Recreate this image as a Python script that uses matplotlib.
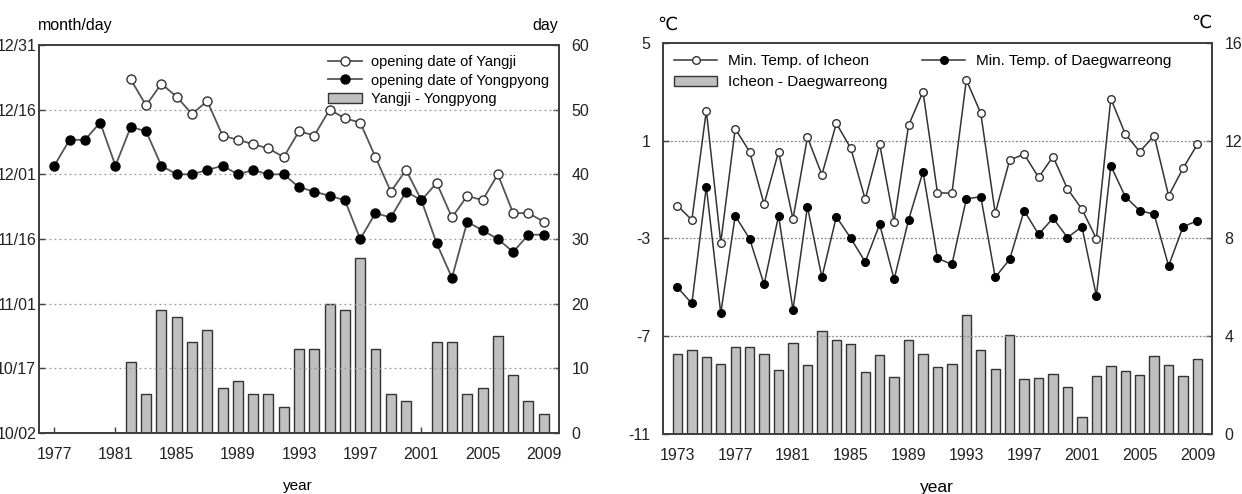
import matplotlib.pyplot as plt
import matplotlib.dates as mdates
from matplotlib.patches import Patch
from matplotlib.lines import Line2D
import pandas as pd

# ---- left panel: ski slope opening dates (month/day) ----
years_a = list(range(1977, 2010))
yongpyong = ['12/03', '12/09', '12/09', '12/13', '12/03', '12/12', '12/11', '12/03', '12/01',
             '12/01', '12/02', '12/03', '12/01', '12/02', '12/01', '12/01', '11/28', '11/27',
             '11/26', '11/25', '11/16', '11/22', '11/21', '11/27', '11/25', '11/15', '11/07',
             '11/20', '11/18', '11/16', '11/13', '11/17', '11/17']
years_yangji = list(range(1982, 2010))
yangji = ['12/23', '12/17', '12/22', '12/19', '12/15', '12/18', '12/10', '12/09', '12/08',
          '12/07', '12/05', '12/11', '12/10', '12/16', '12/14', '12/13', '12/05', '11/27',
          '12/02', '11/25', '11/29', '11/21', '11/26', '11/25', '12/01', '11/22', '11/22',
          '11/20']
gap_days = [11, 6, 19, 18, 14, 16, 7, 8, 6, 6, 4, 13, 13, 20, 19, 27, 13, 6, 5, 0,
            14, 14, 6, 7, 15, 9, 5, 3]
date_ticks = ['10/02', '10/17', '11/01', '11/16', '12/01', '12/16', '12/31']

# ---- right panel: minimum temperatures ----
years_b = list(range(1973, 2010))
icheon = [-1.66, -2.24, 2.23, -3.17, 1.49, 0.55, -1.60, 0.55, -2.20, 1.14, -0.39, 1.71, 0.69,
          -1.40, 0.86, -2.32, 1.63, 3.01, -1.13, -1.15, 3.49, 2.12, -1.97, 0.21, 0.45, -0.50,
          0.35, -0.97, -1.80, -3.01, 2.72, 1.28, 0.55, 1.21, -1.25, -0.13, 0.86]
daegwal = [-5.00, -5.66, -0.88, -6.06, -2.07, -3.02, -4.88, -2.07, -5.92, -1.70, -4.59, -2.11,
           -2.99, -3.96, -2.42, -4.67, -2.24, -0.27, -3.81, -4.06, -1.38, -1.29, -4.59, -3.85,
           -1.86, -2.83, -2.17, -2.96, -2.52, -5.35, -0.02, -1.29, -1.86, -2.01, -4.12, -2.52,
           -2.27]
temp_gap = [3.27, 3.44, 3.14, 2.86, 3.55, 3.55, 3.27, 2.62, 3.74, 2.82, 4.20, 3.85, 3.68, 2.55,
            3.22, 2.35, 3.85, 3.27, 2.75, 2.86, 4.87, 3.44, 2.66, 4.05, 2.25, 2.30, 2.46, 1.94,
            0.70, 2.39, 2.80, 2.56, 2.43, 3.19, 2.82, 2.39, 3.08]

plt.rcParams['font.family'] = ['Liberation Sans', 'DejaVu Sans']
plt.rcParams['font.size'] = 11.5
plt.rcParams['axes.unicode_minus'] = False

SPINE = '#404040'
LINE = '#555555'
BAR_FACE = '#c0c0c0'
TICK_FS = 11.5


def to_num(md):
    return mdates.date2num(pd.Timestamp('2000/' + md))


def style_axes(ax_bar, ax_line, xpad):
    for ax in (ax_bar, ax_line):
        for sp in ax.spines.values():
            sp.set_color(SPINE)
            sp.set_linewidth(1.4)
        ax.tick_params(direction='in', length=4, color=SPINE, width=1.0, labelsize=TICK_FS,
                       labelcolor='#222222')
    ax_bar.tick_params(axis='x', pad=xpad)
    # bars on the right scale, lines on the left scale
    ax_bar.yaxis.tick_right()
    ax_line.yaxis.tick_left()
    ax_bar.tick_params(axis='y', pad=9)


fig = plt.figure(figsize=(12.42, 4.94), dpi=100)

# ================= left panel =================
axa_bar = fig.add_axes([0.0314, 0.1235, 0.4187, 0.7854])
axa = axa_bar.twinx()

axa_bar.bar(years_yangji, gap_days, width=0.65, color=BAR_FACE, edgecolor='#333333',
            linewidth=1.0, zorder=2)
axa_bar.set_ylim(0, 60)
axa_bar.set_yticks(range(0, 61, 10))
axa_bar.set_xlim(1976, 2010)
axa_bar.set_xticks(range(1977, 2010, 4))

yong_num = [to_num(d) for d in yongpyong]
yang_num = [to_num(d) for d in yangji]
axa.plot(years_yangji, yang_num, color=LINE, lw=1.3, marker='o', ms=6.5, mfc='white',
         mec='#333333', mew=1.0, zorder=3)
axa.plot(years_a, yong_num, color=LINE, lw=1.3, marker='o', ms=6.5, mfc='black',
         mec='black', zorder=3)
tick_nums = [to_num(d) for d in date_ticks]
axa.set_ylim(tick_nums[0], tick_nums[-1])
axa.set_yticks(tick_nums)
axa.set_yticklabels(date_ticks)
for t in tick_nums[1:-1]:
    axa.axhline(t, color='#999999', lw=0.9, ls=(0, (1.5, 2.5)), zorder=1)
style_axes(axa_bar, axa, 10)
axa.tick_params(axis='y', pad=2)

handles_a = [
    Line2D([], [], color=LINE, lw=1.3, marker='o', ms=6.5, mfc='white', mec='#333333'),
    Line2D([], [], color=LINE, lw=1.3, marker='o', ms=6.5, mfc='black', mec='black'),
    Patch(facecolor=BAR_FACE, edgecolor='#333333', linewidth=1.0),
]
axa.legend(handles_a, ['opening date of Yangji', 'opening date of Yongpyong', 'Yangji - Yongpyong'],
           loc='upper right', frameon=False, fontsize=10.5, handlelength=2.3,
           labelspacing=0.3, borderaxespad=0.3, handletextpad=0.6)

fig.text(0.0306, 0.949, 'month/day', ha='left', va='center', fontsize=11.5)
fig.text(0.4493, 0.949, 'day', ha='right', va='center', fontsize=11.5)
fig.text(0.240, 0.016, 'year', ha='center', va='center', fontsize=11)

# ================= right panel =================
axb_bar = fig.add_axes([0.5338, 0.1215, 0.4420, 0.7915])
axb = axb_bar.twinx()

axb_bar.bar(years_b, temp_gap, width=0.65, color=BAR_FACE, edgecolor='#333333',
            linewidth=1.0, zorder=2)
axb_bar.set_ylim(0, 16)
axb_bar.set_yticks(range(0, 17, 4))
axb_bar.set_xlim(1972, 2010)
axb_bar.set_xticks(range(1973, 2010, 4))

axb.plot(years_b, icheon, color='#333333', lw=1.1, marker='o', ms=5.5, mfc='white',
         mec='#333333', mew=1.0, zorder=3)
axb.plot(years_b, daegwal, color='#333333', lw=1.1, marker='o', ms=5.5, mfc='black',
         mec='black', zorder=3)
axb.set_ylim(-11, 5)
axb.set_yticks(range(-11, 6, 4))
for t in (-7, -3, 1):
    axb.axhline(t, color='#888888', lw=0.9, ls=(0, (1.5, 1.5)), zorder=1)
style_axes(axb_bar, axb, 10)
axb.tick_params(axis='y', pad=9)

handles_b = [
    Line2D([], [], color='#333333', lw=1.1, marker='o', ms=5.5, mfc='white', mec='#333333'),
    Patch(facecolor=BAR_FACE, edgecolor='#333333', linewidth=1.0),
    Line2D([], [], color='#333333', lw=1.1, marker='o', ms=5.5, mfc='black', mec='black'),
]
axb.legend(handles_b, ['Min. Temp. of Icheon', 'Icheon - Daegwarreong',
                       'Min. Temp. of Daegwarreong'],
           loc='upper left', ncol=2, frameon=False, fontsize=11, handlelength=2.8,
           labelspacing=0.45, borderaxespad=0.35, handletextpad=0.7, columnspacing=2.3)

fig.text(0.537, 0.949, '℃', ha='center', va='center', fontsize=13)
fig.text(0.967, 0.953, '℃', ha='center', va='center', fontsize=13)
fig.text(0.7544, 0.014, 'year', ha='center', va='center', fontsize=12.5)

fig.savefig('out.png', dpi=100)
